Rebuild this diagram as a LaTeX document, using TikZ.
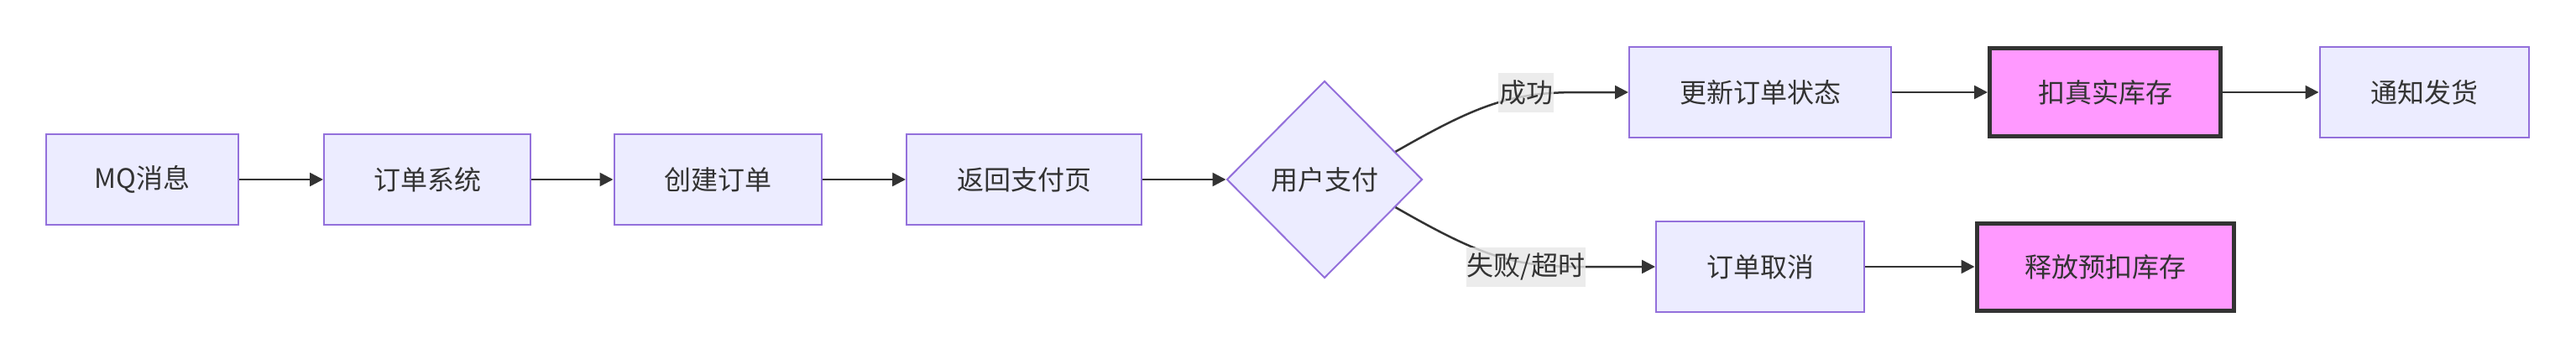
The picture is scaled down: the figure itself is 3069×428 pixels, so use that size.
\documentclass[tikz,border=0pt]{standalone}
\usepackage{fontspec}
\setmainfont{Noto Sans CJK SC}
\usetikzlibrary{arrows.meta,shapes.geometric,calc}
\definecolor{boxfill}{HTML}{ECECFF}
\definecolor{boxline}{HTML}{9370DB}
\definecolor{ink}{HTML}{333333}
\definecolor{pinkfill}{HTML}{FF99FF}
\definecolor{labelbg}{HTML}{E8E8E8}
\begin{document}
\begin{tikzpicture}[x=1pt,y=-1pt,
  every node/.style={font=\fontsize{32}{38}\selectfont, text=ink},
  box/.style={draw=boxline, fill=boxfill, line width=2pt, minimum height=108pt, inner sep=0pt},
  hot/.style={draw=ink, fill=pinkfill, line width=5pt, minimum height=104pt, inner sep=0pt},
  decision/.style={diamond, draw=boxline, fill=boxfill, line width=2pt, inner sep=0pt},
  edge/.style={draw=ink, line width=2.5pt, -{Triangle[length=16pt,width=16pt]}},
  lbl/.style={fill=labelbg, fill opacity=0.8, text opacity=1, inner xsep=1pt, inner ysep=0pt, minimum height=47pt}]
\useasboundingbox (0,0) rectangle (3069,428);
\fill[white] (0,0) rectangle (3069,428);
\node[box, minimum width=229pt] (mq) at (169.5,214) {MQ消息};
\node[box, minimum width=246pt] (sys) at (509,214) {订单系统};
\node[box, minimum width=247pt] (create) at (855,214) {创建订单};
\node[box, minimum width=280pt] (ret) at (1220,214) {返回支付页};
\node[decision, minimum width=233pt, minimum height=235pt] (pay) at (1578,214) {用户支付};
\node[box, minimum width=312pt] (upd) at (2097,110) {更新订单状态};
\node[hot, minimum width=275pt] (real) at (2508,110) {扣真实库存};
\node[box, minimum width=249pt] (notify) at (2888,110) {通知发货};
\node[box, minimum width=248pt] (cancel) at (2097,318) {订单取消};
\node[hot, minimum width=306pt] (release) at (2508,318) {释放预扣库存};
\coordinate (p1) at ($(pay.north)!0.72!(pay.east)$);
\coordinate (p2) at ($(pay.south)!0.72!(pay.east)$);
\draw[edge] (mq) -- (sys);
\draw[edge] (sys) -- (create);
\draw[edge] (create) -- (ret);
\draw[edge] (ret) -- (pay);
\draw[edge] (p1) .. controls (1760,125) and (1800,110) .. (1880,110) -- (upd.west);
\draw[edge] (p2) .. controls (1760,303) and (1800,318) .. (1880,318) -- (cancel.west);
\draw[edge] (upd) -- (real);
\draw[edge] (real) -- (notify);
\draw[edge] (cancel) -- (release);
\node[lbl] (ok) at (1818,110) {成功};
\node[lbl] (fail) at (1818,318) {失败/超时};
\end{tikzpicture}
\end{document}
